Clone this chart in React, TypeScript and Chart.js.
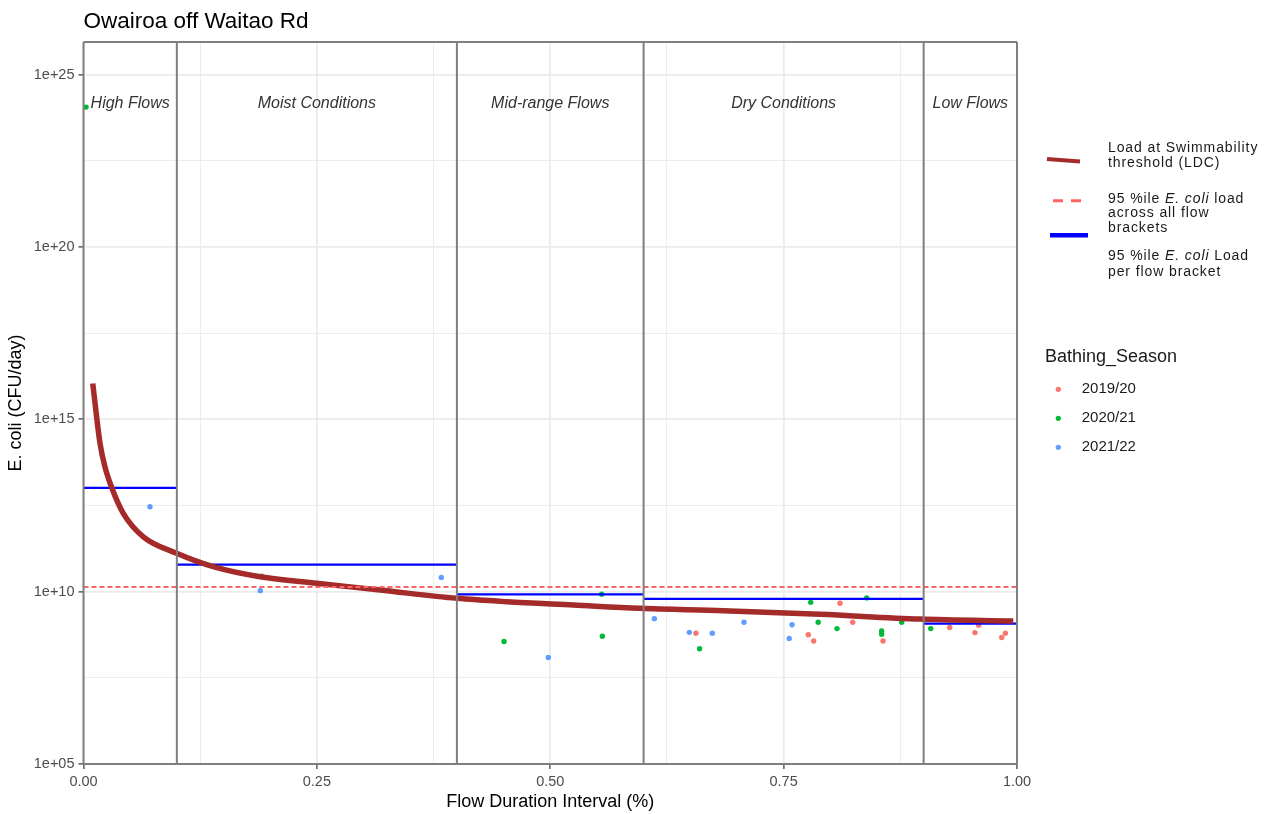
import React, { useEffect, useRef } from 'react';
import { Chart, registerables } from 'chart.js';

Chart.register(...registerables);

// ---------- text ----------
const chartTitle = 'Owairoa off Waitao Rd';
const xAxisTitle = 'Flow Duration Interval (%)';
const yAxisTitle = 'E. coli (CFU/day)';

// ---------- ticks ----------
const xMajorTicks = [0, 0.25, 0.5, 0.75, 1];
const xMajorLabels = ['0.00', '0.25', '0.50', '0.75', '1.00'];
const xMinorTicks = [0.125, 0.375, 0.625, 0.875];
const yMajorTicks = [1e5, 1e10, 1e15, 1e20, 1e25];
const yMajorLabels = ['1e+05', '1e+10', '1e+15', '1e+20', '1e+25'];
const yMinorTicks = [3.162e7, 3.162e12, 3.162e17, 3.162e22];
const yMin = 1e5;
const yMax = 8.9e25;

// ---------- flow brackets ----------
const bracketEdges = [0, 0.1, 0.4, 0.6, 0.9, 1];
const bracketNames = ['High Flows', 'Moist Conditions', 'Mid-range Flows', 'Dry Conditions', 'Low Flows'];
const bracketLabelCentres = [0.05, 0.25, 0.5, 0.75, 0.95];
const bracketLabelY = 1.5e24;
const bracket95Load = [1.03e13, 6.1e10, 8.4e9, 6.2e9, 1.18e9];
const overall95Load = 1.37e10;

// ---------- load duration curve ----------
const ldcFlow = [0.0099, 0.0177, 0.023, 0.0302, 0.0426, 0.0641, 0.0998, 0.139, 0.189, 0.2498, 0.3176, 0.3998, 0.4533, 0.5247, 0.5961, 0.6854, 0.789, 0.896, 0.996];
const ldcLoad = [1.1e16, 2.0e14, 4.2e13, 1.05e13, 1.87e12, 3.9e11, 1.3e11, 5.3e10, 2.7e10, 1.75e10, 1.12e10, 6.4e9, 5.1e9, 4.1e9, 3.3e9, 2.8e9, 2.2e9, 1.6e9, 1.4e9];

// ---------- samples by bathing season ----------
const seasonNames = ['2019/20', '2020/21', '2021/22'];
const seasonColors = ['#F8766D', '#00BA38', '#619CFF'];

const s1920Flow = [0.6561, 0.7764, 0.7822, 0.8104, 0.824, 0.8565, 0.9279, 0.955, 0.959, 0.9836, 0.9875];
const s1920Load = [6.2e8, 5.6e8, 3.7e8, 4.6e9, 1.3e9, 3.7e8, 9.1e8, 6.5e8, 1.07e9, 4.7e8, 6.2e8];

const s2021Flow = [0.0027, 0.1909, 0.4505, 0.5551, 0.5558, 0.66, 0.779, 0.787, 0.8072, 0.839, 0.855, 0.855, 0.8765, 0.9076];
const s2021Load = [1.15e24, 2.8e10, 3.6e8, 8.4e9, 5.1e8, 2.2e8, 4.9e9, 1.3e9, 8.5e8, 6.6e9, 7.2e8, 5.8e8, 1.3e9, 8.5e8];

const s2122Flow = [0.0712, 0.1894, 0.3833, 0.4979, 0.6115, 0.649, 0.6736, 0.7075, 0.759, 0.756];
const s2122Load = [2.9e12, 1.07e10, 2.6e10, 1.23e8, 1.65e9, 6.6e8, 6.2e8, 1.3e9, 1.1e9, 4.4e8];

// ---------- legend text ----------
const ldcLegendLines = ['Load at Swimmability', 'threshold (LDC)'];
const overallLegendLines = ['95 %ile *E. coli* load', 'across all flow', 'brackets'];
const bracketLegendLines = ['95 %ile *E. coli* Load', 'per flow bracket'];
const seasonLegendTitle = 'Bathing_Season';

const FONT = '"Liberation Sans", Arial, Helvetica, sans-serif';
const LDC_COLOR = '#A52A2A';
const BRACKET_COLOR = '#0000FF';
const OVERALL_COLOR = '#FF6464';
const VLINE_COLOR = '#7F7F7F';

const toPoints = (xs: number[], ys: number[]) => xs.map((x, i) => ({ x, y: ys[i] }));

const bracketSegments = () => {
  const pts: { x: number; y: number | null }[] = [];
  for (let i = 0; i < bracket95Load.length; i++) {
    pts.push({ x: bracketEdges[i], y: bracket95Load[i] });
    pts.push({ x: bracketEdges[i + 1], y: bracket95Load[i] });
    if (i < bracket95Load.length - 1) pts.push({ x: bracketEdges[i + 1], y: null });
  }
  return pts;
};

const drawRich = (ctx: CanvasRenderingContext2D, line: string, x: number, y: number, size: number) => {
  const parts = line.split('*');
  let cx = x;
  parts.forEach((t, i) => {
    if (!t) return;
    ctx.font = `${i % 2 === 1 ? 'italic ' : ''}${size}px ${FONT}`;
    ctx.fillText(t, cx, y);
    cx += ctx.measureText(t).width;
  });
};

const decorPlugin = {
  id: 'decor',
  afterDatasetsDraw(chart: any) {
    const { ctx, chartArea, scales } = chart;
    const xs = scales.x;
    const ys = scales.y;
    ctx.save();
    ctx.strokeStyle = VLINE_COLOR;
    ctx.lineWidth = 2;
    for (const e of bracketEdges) {
      const px = xs.getPixelForValue(e);
      ctx.beginPath();
      ctx.moveTo(px, chartArea.top);
      ctx.lineTo(px, chartArea.bottom);
      ctx.stroke();
    }
    ctx.beginPath();
    ctx.moveTo(chartArea.left, chartArea.top);
    ctx.lineTo(chartArea.right, chartArea.top);
    ctx.moveTo(chartArea.left, chartArea.bottom);
    ctx.lineTo(chartArea.right, chartArea.bottom);
    ctx.stroke();
    ctx.fillStyle = '#333333';
    ctx.font = `italic 16px ${FONT}`;
    ctx.textAlign = 'center';
    ctx.textBaseline = 'middle';
    bracketNames.forEach((n, i) => {
      ctx.fillText(n, xs.getPixelForValue(bracketLabelCentres[i]), ys.getPixelForValue(bracketLabelY));
    });
    ctx.restore();
  },
  afterDraw(chart: any) {
    const { ctx, chartArea } = chart;
    ctx.save();
    ctx.fillStyle = '#000000';
    ctx.font = `22.5px ${FONT}`;
    ctx.textAlign = 'left';
    ctx.textBaseline = 'alphabetic';
    ctx.fillText(chartTitle, chartArea.left, 28);
    ctx.font = `18px ${FONT}`;
    ctx.textAlign = 'center';
    ctx.textBaseline = 'middle';
    ctx.fillText(xAxisTitle, (chartArea.left + chartArea.right) / 2, 802);
    ctx.save();
    ctx.translate(16, (chartArea.top + chartArea.bottom) / 2);
    ctx.rotate(-Math.PI / 2);
    ctx.fillText(yAxisTitle, 0, 0);
    ctx.restore();

    ctx.lineCap = 'butt';
    ctx.strokeStyle = LDC_COLOR;
    ctx.lineWidth = 4;
    ctx.beginPath();
    ctx.moveTo(1047, 159);
    ctx.lineTo(1080, 161.5);
    ctx.stroke();

    ctx.strokeStyle = OVERALL_COLOR;
    ctx.lineWidth = 3;
    ctx.setLineDash([10, 8]);
    ctx.beginPath();
    ctx.moveTo(1053, 200.7);
    ctx.lineTo(1082, 200.7);
    ctx.stroke();
    ctx.setLineDash([]);

    ctx.strokeStyle = BRACKET_COLOR;
    ctx.lineWidth = 4.5;
    ctx.beginPath();
    ctx.moveTo(1050, 235.3);
    ctx.lineTo(1088, 235.3);
    ctx.stroke();

    ctx.fillStyle = '#1a1a1a';
    ctx.textAlign = 'left';
    ctx.textBaseline = 'middle';
    (ctx as any).letterSpacing = '0.9px';
    const tx = 1108;
    ldcLegendLines.forEach((l, i) => drawRich(ctx, l, tx, 148.3 + i * 15, 14));
    overallLegendLines.forEach((l, i) => drawRich(ctx, l, tx, 199 + i * 14.4, 14));
    bracketLegendLines.forEach((l, i) => drawRich(ctx, l, tx, 256 + i * 15.7, 14));
    (ctx as any).letterSpacing = '0px';

    ctx.fillStyle = '#1a1a1a';
    ctx.font = `18px ${FONT}`;
    ctx.fillText(seasonLegendTitle, 1045, 356.7);
    seasonNames.forEach((n, i) => {
      const y = 389.3 + i * 29;
      ctx.fillStyle = seasonColors[i];
      ctx.beginPath();
      ctx.arc(1058.3, y, 2.6, 0, Math.PI * 2);
      ctx.fill();
      ctx.fillStyle = '#1a1a1a';
      ctx.font = `15px ${FONT}`;
      ctx.fillText(n, 1081.7, y);
    });
    ctx.restore();
  },
};

export default function App() {
  const ref = useRef<HTMLCanvasElement | null>(null);
  useEffect(() => {
    if (!ref.current) return;
    const isXMajor = (v: number) => xMajorTicks.includes(v);
    const isYMajor = (v: number) => yMajorTicks.includes(v);
    const scatterSet = (i: number, xs: number[], ys: number[]) => ({
      type: 'scatter' as const,
      label: seasonNames[i],
      data: toPoints(xs, ys),
      backgroundColor: seasonColors[i],
      borderWidth: 0,
      pointRadius: 2.7,
      order: 5,
    });
    const chart = new Chart(ref.current, {
      type: 'scatter',
      data: {
        datasets: [
          {
            type: 'line',
            label: 'overall95',
            data: [{ x: 0, y: overall95Load }, { x: 1, y: overall95Load }],
            borderColor: OVERALL_COLOR,
            borderWidth: 2,
            borderDash: [5, 3],
            pointRadius: 0,
            order: 1,
          } as any,
          {
            type: 'line',
            label: 'ldc',
            data: toPoints(ldcFlow, ldcLoad),
            borderColor: LDC_COLOR,
            borderWidth: 5.5,
            pointRadius: 0,
            cubicInterpolationMode: 'monotone',
            order: 2,
          } as any,
          {
            type: 'line',
            label: 'bracket95',
            data: bracketSegments(),
            borderColor: BRACKET_COLOR,
            borderWidth: 2.2,
            pointRadius: 0,
            spanGaps: false,
            order: 3,
          } as any,
          scatterSet(0, s1920Flow, s1920Load),
          scatterSet(1, s2021Flow, s2021Load),
          scatterSet(2, s2122Flow, s2122Load),
        ],
      },
      options: {
        responsive: false,
        animation: false,
        devicePixelRatio: 1,
        layout: { padding: { left: 0, top: 42, right: 252, bottom: 0 } },
        plugins: { legend: { display: false }, tooltip: { enabled: false }, title: { display: false } },
        scales: {
          x: {
            type: 'linear',
            min: 0,
            max: 1,
            afterBuildTicks: (s: any) => {
              s.ticks = [...xMajorTicks, ...xMinorTicks].sort((a, b) => a - b).map((v) => ({ value: v }));
            },
            afterFit: (s: any) => {
              s.height = 50;
            },
            ticks: {
              autoSkip: false,
              maxRotation: 0,
              padding: 4,
              color: '#4D4D4D',
              font: { family: FONT, size: 14.5 },
              callback: (v: any) => {
                const i = xMajorTicks.indexOf(Number(v));
                return i >= 0 ? xMajorLabels[i] : '';
              },
            },
            grid: {
              color: () => '#EBEBEB',
              lineWidth: (c: any) => (isXMajor(c.tick?.value) ? 1.8 : 0.9),
              tickColor: (c: any) => (isXMajor(c.tick?.value) ? '#333333' : 'rgba(0,0,0,0)'),
              tickWidth: 1.2,
              tickLength: 5,
              drawTicks: true,
            },
            border: { display: false },
          },
          y: {
            type: 'logarithmic',
            min: yMin,
            max: yMax,
            afterBuildTicks: (s: any) => {
              s.ticks = [...yMajorTicks, ...yMinorTicks].sort((a, b) => a - b).map((v) => ({ value: v }));
            },
            afterFit: (s: any) => {
              s.width = 83.5;
            },
            ticks: {
              autoSkip: false,
              padding: 4,
              color: '#4D4D4D',
              font: { family: FONT, size: 14.5 },
              callback: (v: any) => {
                const i = yMajorTicks.indexOf(Number(v));
                return i >= 0 ? yMajorLabels[i] : '';
              },
            },
            grid: {
              color: () => '#EBEBEB',
              lineWidth: (c: any) => (isYMajor(c.tick?.value) ? 1.8 : 0.9),
              tickColor: (c: any) => (isYMajor(c.tick?.value) ? '#333333' : 'rgba(0,0,0,0)'),
              tickWidth: 1.2,
              tickLength: 5,
              drawTicks: true,
            },
            border: { display: false },
          },
        },
      } as any,
      plugins: [decorPlugin],
    });
    return () => chart.destroy();
  }, []);

  return (
    <div style={{ position: 'fixed', left: 0, top: 0, width: 1269, height: 814, background: '#ffffff' }}>
      <canvas ref={ref} width={1269} height={814} style={{ display: 'block', width: 1269, height: 814 }} />
    </div>
  );
}
